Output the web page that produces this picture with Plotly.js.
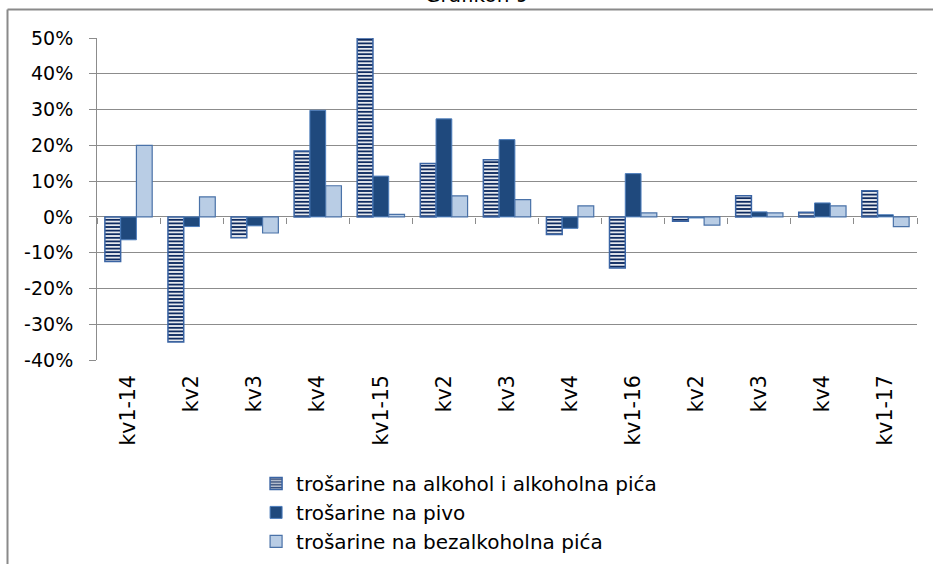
<!DOCTYPE html>
<html>
<head>
<meta charset="utf-8">
<script src="https://cdn.plot.ly/plotly-3.0.1.min.js"></script>
<style>
  html, body { margin: 0; padding: 0; background: #ffffff; }
  #chart { width: 933px; height: 564px; }
</style>
</head>
<body>
<div id="chart"></div>
<script>
// ---- data ----
const categories = ["kv1-14", "kv2", "kv3", "kv4", "kv1-15", "kv2", "kv3", "kv4", "kv1-16", "kv2", "kv3", "kv4", "kv1-17"];
const seriesNames = [
  "trošarine na alkohol i alkoholna pića",
  "trošarine na pivo",
  "trošarine na bezalkoholna pića"
];
const alkohol = [-12.5, -35.0, -5.8, 18.4, 50.0, 14.9, 16.0, -4.9, -14.3, -1.2, 5.9, 1.3, 7.3];
const pivo = [-6.4, -2.7, -2.5, 29.8, 11.4, 27.4, 21.6, -3.2, 12.1, -0.3, 1.4, 3.9, 0.6];
const bezalkoholna = [20.0, 5.6, -4.5, 8.7, 0.7, 5.9, 4.8, 3.1, 1.1, -2.3, 1.1, 3.1, -2.7];
const yTickVals = [-40, -30, -20, -10, 0, 10, 20, 30, 40, 50];
const yTickText = ["-40%", "-30%", "-20%", "-10%", "0%", "10%", "20%", "30%", "40%", "50%"];
const chartTitle = "Grafikon 9";

const xIdx = categories.map((_, i) => i);
const boundaries = categories.map((_, i) => i - 0.5).concat([categories.length - 0.5]);

const FONT = "DejaVu Sans, Arial, sans-serif";

const traces = [
  {
    type: "bar", x: xIdx, y: alkohol, name: seriesNames[0],
    marker: {
      color: "#ffffff",
      pattern: { shape: "-", fgcolor: "#0f2b60", bgcolor: "#ffffff", fillmode: "replace", size: 3.6, solidity: 0.55 },
      line: { color: "#3a64a4", width: 1.5 }
    }
  },
  {
    type: "bar", x: xIdx, y: pivo, name: seriesNames[1],
    marker: { color: "#1f497d", line: { color: "#4f7fbd", width: 1 } }
  },
  {
    type: "bar", x: xIdx, y: bezalkoholna, name: seriesNames[2],
    marker: { color: "#b9cde5", line: { color: "#4a72a8", width: 1.2 } }
  },
  {
    type: "scatter", x: [0], y: [0], xaxis: "x2", mode: "markers",
    marker: { opacity: 0 }, showlegend: false, hoverinfo: "skip"
  }
];

const layout = {
  width: 933, height: 564,
  paper_bgcolor: "#ffffff", plot_bgcolor: "#ffffff",
  margin: { l: 97, r: 16, t: 38, b: 204, autoexpand: false },
  font: { family: FONT, size: 19, color: "#000000" },
  barmode: "group", bargap: 0.25, bargroupgap: 0,
  showlegend: true,
  legend: {
    x: 0.194, xanchor: "left", y: -0.3227, yanchor: "top",
    font: { family: FONT, size: 20, color: "#000000" },
    bgcolor: "rgba(0,0,0,0)", tracegroupgap: 0, traceorder: "normal"
  },
  xaxis: {
    range: [-0.5, categories.length - 0.5], automargin: false,
    tickmode: "array", tickvals: xIdx, ticktext: categories,
    tickangle: -90, ticks: "", showgrid: false, zeroline: false,
    showline: false, ticklabelstandoff: 10,
    tickfont: { family: FONT, size: 20.5, color: "#000000" }
  },
  xaxis2: {
    overlaying: "x", matches: "x", anchor: "free", position: 40 / 90,
    tickmode: "array", tickvals: boundaries, showticklabels: false,
    ticks: "outside", ticklen: 6, tickcolor: "#8c8c8c", tickwidth: 1,
    showline: false, showgrid: false, zeroline: false, automargin: false
  },
  yaxis: {
    range: [-40, 50], tickmode: "array", tickvals: yTickVals, ticktext: yTickText,
    automargin: false,
    showgrid: true, gridcolor: "#8c8c8c", gridwidth: 1,
    zeroline: true, zerolinecolor: "#8c8c8c", zerolinewidth: 1,
    showline: true, linecolor: "#8c8c8c", linewidth: 1,
    ticks: "outside", ticklen: 7, tickcolor: "#8c8c8c",
    ticklabelstandoff: 12,
    tickfont: { family: FONT, size: 19, color: "#000000" }
  },
  annotations: [
    {
      text: chartTitle, xref: "paper", yref: "paper",
      x: (476 - 97) / 820, xanchor: "center",
      y: (360 - 9) / 322, yanchor: "bottom",
      showarrow: false, font: { family: FONT, size: 20, color: "#000000" }
    }
  ],
  shapes: [
    {
      type: "line", xref: "paper", yref: "paper",
      x0: (7.5 - 97) / 820, x1: (7.5 - 97) / 820,
      y0: (360 - 600) / 322, y1: (360 - 9.5) / 322,
      line: { color: "#8a8a8a", width: 2 }, layer: "below"
    },
    {
      type: "line", xref: "paper", yref: "paper",
      x0: (7.5 - 97) / 820, x1: (960 - 97) / 820,
      y0: (360 - 9.5) / 322, y1: (360 - 9.5) / 322,
      line: { color: "#8a8a8a", width: 2 }, layer: "below"
    }
  ]
};

Plotly.newPlot("chart", traces, layout, { staticPlot: true, displayModeBar: false });
</script>
</body>
</html>
